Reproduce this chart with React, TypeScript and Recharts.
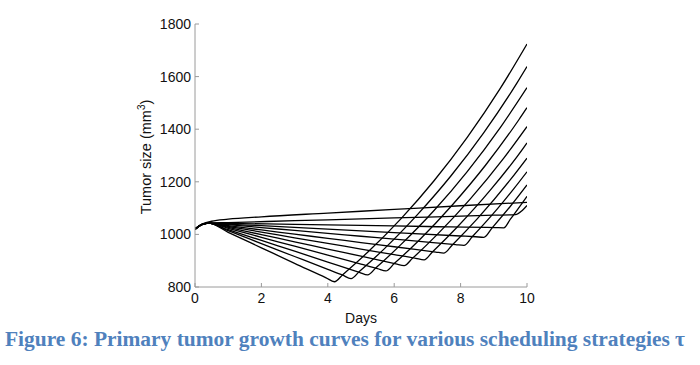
import React from 'react';
import { LineChart, Line, XAxis, YAxis } from 'recharts';

const dayTicks = [0, 2, 4, 6, 8, 10];
const sizeTicks = [800, 1000, 1200, 1400, 1600, 1800];

// [day, tumor size mm^3], one list per schedule (earliest minimum first)
const tauA = [[0, 1020], [0.2, 1037], [0.4, 1043], [1, 1008], [2, 949], [3, 890], [3.95, 835], [4.2, 820], [4.45, 847], [5.2, 932], [6.2, 1059], [7.2, 1204], [8.2, 1369], [9.2, 1556], [10, 1724]];
const tauB = [[0, 1020], [0.2, 1037], [0.4, 1043], [1, 1014], [2, 965], [3, 916], [4, 867], [4.45, 845], [4.7, 832], [4.95, 859], [5.7, 945], [6.7, 1075], [7.7, 1221], [8.7, 1387], [9.7, 1576], [10, 1638]];
const tauC = [[0, 1020], [0.2, 1037], [0.4, 1043], [1, 1018], [2, 977], [3, 936], [4, 895], [4.95, 856], [5.2, 846], [5.45, 873], [6.2, 961], [7.2, 1091], [8.2, 1239], [9.2, 1407], [10, 1558]];
const tauD = [[0, 1020], [0.2, 1037], [0.4, 1043], [1, 1023], [2, 989], [3, 955], [4, 921], [5, 887], [5.5, 870], [5.75, 861], [6, 889], [6.75, 978], [7.75, 1112], [8.75, 1263], [9.75, 1435], [10, 1482]];
const tauE = [[0, 1020], [0.2, 1037], [0.4, 1043], [1, 1027], [2, 999], [3, 972], [4, 944], [5, 917], [6.05, 888], [6.3, 881], [6.55, 909], [7.3, 1000], [8.3, 1136], [9.3, 1290], [10, 1410]];
const tauF = [[0, 1020], [0.2, 1037], [0.4, 1043], [1, 1030], [2, 1009], [3, 987], [4, 966], [5, 944], [6, 923], [6.65, 909], [6.9, 903], [7.15, 933], [7.9, 1028], [8.9, 1169], [9.9, 1330], [10, 1348]];
const tauG = [[0, 1020], [0.2, 1037], [0.4, 1043], [1, 1033], [2, 1017], [3, 1001], [4, 985], [5, 969], [6, 953], [7.25, 933], [7.5, 929], [7.75, 960], [8.5, 1059], [9.5, 1208], [10, 1290]];
const tauH = [[0, 1020], [0.2, 1037], [0.4, 1043], [1, 1037], [2, 1026], [3, 1015], [4, 1004], [5, 993], [6, 982], [7, 971], [7.85, 961], [8.1, 958], [8.35, 991], [9.1, 1096], [9.6, 1173], [10, 1238]];
const tauI = [[0, 1020], [0.2, 1037], [0.4, 1043], [1, 1039], [2, 1033], [4, 1020], [6, 1007], [8, 994], [8.45, 991], [8.7, 989], [8.95, 1025], [9.5, 1107], [10, 1188]];
const tauJ = [[0, 1020], [0.2, 1037], [0.4, 1043], [1, 1042], [3, 1038], [5, 1034], [7, 1030], [9.05, 1026], [9.3, 1025], [9.5, 1058], [10, 1145]];
const tauK = [[0, 1020], [0.2, 1037], [0.4, 1043], [1, 1045], [3, 1052], [5, 1059], [7, 1066], [9, 1073], [9.65, 1075], [9.85, 1090], [10, 1110]];
const tauL = [[0, 1020], [0.2, 1038], [0.5, 1050], [1, 1058], [2, 1067], [4, 1081], [6, 1095], [8, 1109], [10, 1122]];

const curves = [tauA, tauB, tauC, tauD, tauE, tauF, tauG, tauH, tauI, tauJ, tauK, tauL];

const AXIS = '#9a9a9a';
const FONT = '"Liberation Sans", Arial, Helvetica, sans-serif';
const tickStyle = { fill: '#111', fontSize: 14, fontFamily: FONT };

const NoLabel = () => <g />;

export default function App() {
  return (
    <div style={{ position: 'absolute', left: 0, top: 0, width: 700, height: 365, background: '#fff' }}>
      <LineChart width={700} height={320} margin={{ top: 24, right: 173, bottom: 3, left: 135 }}>
        <XAxis xAxisId="b" dataKey="d" type="number" domain={[0, 10]} ticks={dayTicks} allowDataOverflow
          stroke={AXIS} tickSize={-4} tickMargin={10} height={30} tick={tickStyle} />
        <XAxis xAxisId="t" orientation="top" dataKey="d" type="number" domain={[0, 10]} ticks={dayTicks}
          stroke={AXIS} tickSize={-4} height={0} tick={NoLabel} />
        <YAxis yAxisId="l" type="number" domain={[800, 1800]} ticks={sizeTicks} allowDataOverflow
          stroke={AXIS} tickSize={-4} tickMargin={8} width={60} tick={tickStyle} />
        <YAxis yAxisId="r" orientation="right" type="number" domain={[800, 1800]} ticks={sizeTicks}
          stroke={AXIS} tickSize={-4} width={0} tick={NoLabel} />
        {curves.map((c, i) => (
          <Line key={i} xAxisId="b" yAxisId="l" data={c.map(([d, v]) => ({ d, v }))} dataKey="v"
            type="monotone" stroke="#000" strokeWidth={1.3} dot={false} isAnimationActive={false} />
        ))}
      </LineChart>
      <svg width={700} height={365} style={{ position: 'absolute', left: 0, top: 0, pointerEvents: 'none' }}>
        <text x={361} y={323} textAnchor="middle" fontFamily={FONT} fontSize={14} fill="#111">Days</text>
        <text transform="translate(151,157) rotate(-90)" textAnchor="middle" fontFamily={FONT} fontSize={14.5} fill="#111">
          Tumor size (mm<tspan dy={-6} fontSize={10}>3</tspan><tspan dy={6}>)</tspan>
        </text>
        <text x={5} y={346} textLength={680} lengthAdjust="spacingAndGlyphs" fontFamily='"Liberation Serif", serif'
          fontWeight="bold" fontSize={20} fill="#4F81BD">
          Figure 6: Primary tumor growth curves for various scheduling strategies τ
        </text>
      </svg>
    </div>
  );
}
